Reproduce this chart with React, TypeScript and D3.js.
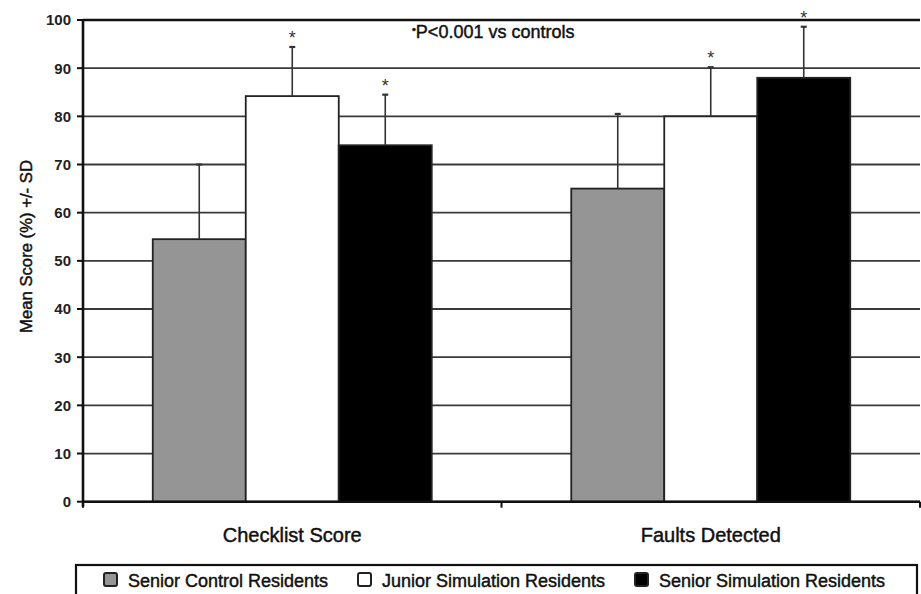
import React from "react";
import * as d3 from "d3";

const categories = ["Checklist Score", "Faults Detected"];
const seriesNames = ["Senior Control Residents", "Junior Simulation Residents", "Senior Simulation Residents"];
const seriesColors = ["#959595", "#ffffff", "#000000"];
const means = [
  [54.5, 65.0],
  [84.2, 80.0],
  [74.0, 88.0],
];
const sds = [
  [15.5, 15.5],
  [10.2, 10.2],
  [10.5, 10.6],
];
const significant = [
  [false, false],
  [true, true],
  [true, true],
];
const yTicks = [0, 10, 20, 30, 40, 50, 60, 70, 80, 90, 100];
const yTitle = "Mean Score (%) +/- SD";
const note = "P<0.001 vs controls";

const W = 921;
const H = 594;
const left = 83;
const right = 920;
const top = 20;
const bottom = 501.7;
const FONT = "'Liberation Sans', Arial, Helvetica, sans-serif";
const heavy = { stroke: "#111", strokeWidth: 0.45 };

export default function App() {
  const y = d3.scaleLinear().domain([0, 100]).range([bottom, top]);
  const x0 = d3.scaleBand<string>().domain(categories).range([left, right]).paddingInner(0).paddingOuter(0);
  const x1 = d3
    .scaleBand<string>()
    .domain(seriesNames)
    .range([0, x0.bandwidth()])
    .paddingInner(0)
    .paddingOuter(0.75);

  const legendX = [104, 358, 635];

  return (
    <svg
      width={W}
      height={H}
      style={{ position: "absolute", left: 0, top: 0, background: "#fff" }}
      fontFamily={FONT}
    >
      <rect x={0} y={0} width={W} height={H} fill="#fff" />
      {/* gridlines */}
      {yTicks.map((t) => (
        <line
          key={"g" + t}
          x1={left}
          x2={right}
          y1={y(t)}
          y2={y(t)}
          stroke={t === 100 ? "#111" : "#3a3a3a"}
          strokeWidth={t === 100 ? 2.4 : 1.8}
        />
      ))}
      {/* bars */}
      {seriesNames.map((s, si) =>
        categories.map((c, ci) => {
          const bx = (x0(c) as number) + (x1(s) as number);
          const bw = x1.bandwidth();
          const v = means[si][ci];
          return (
            <rect
              key={s + c}
              x={bx}
              y={y(v)}
              width={bw}
              height={y(0) - y(v)}
              fill={seriesColors[si]}
              stroke="#222"
              strokeWidth={1.8}
            />
          );
        })
      )}
      {/* error bars and stars */}
      {seriesNames.map((s, si) =>
        categories.map((c, ci) => {
          const cx = (x0(c) as number) + (x1(s) as number) + x1.bandwidth() / 2;
          const v = means[si][ci];
          const e = v + sds[si][ci];
          return (
            <g key={"e" + s + c}>
              <line x1={cx} x2={cx} y1={y(v)} y2={y(e)} stroke="#333" strokeWidth={1.6} />
              <line x1={cx - 3} x2={cx + 3} y1={y(e)} y2={y(e)} stroke="#333" strokeWidth={2.2} />
              {significant[si][ci] && (
                <text x={cx} y={y(e) - 3} textAnchor="middle" fontSize={18} fill="#333">
                  *
                </text>
              )}
            </g>
          );
        })
      )}
      {/* axes */}
      <line x1={left} x2={left} y1={top - 1} y2={bottom + 5} stroke="#111" strokeWidth={2.6} />
      <line x1={left - 1} x2={right} y1={bottom} y2={bottom} stroke="#111" strokeWidth={2.6} />
      {yTicks.map((t) => (
        <g key={"t" + t}>
          <line x1={left - 6} x2={left} y1={y(t)} y2={y(t)} stroke="#111" strokeWidth={2} />
          <text
            x={71}
            y={y(t)}
            dy="0.36em"
            textAnchor="end"
            fontSize={15}
            fontWeight="bold"
            fill="#222"
          >
            {t}
          </text>
        </g>
      ))}
      {[left, left + x0.step(), right].map((tx, i) => (
        <line key={"xt" + i} x1={tx} x2={tx} y1={bottom} y2={bottom + 6} stroke="#111" strokeWidth={2} />
      ))}
      {categories.map((c) => (
        <text
          key={"c" + c}
          x={(x0(c) as number) + x0.bandwidth() / 2}
          y={541.5}
          textAnchor="middle"
          fontSize={20}
          fill="#111"
          {...heavy}
        >
          {c}
        </text>
      ))}
      <text
        transform={`translate(32,246.5) rotate(-90)`}
        textAnchor="middle"
        fontSize={16.7}
        fill="#111"
        {...heavy}
      >
        {yTitle}
      </text>
      {/* note */}
      <text x={412} y={38} fontSize={18} fill="#111" {...heavy}>
        <tspan fontSize={11} dy={-5}>•</tspan>
        <tspan dy={5}>{note}</tspan>
      </text>
      {/* legend */}
      <rect x={76} y={565} width={841} height={40} fill="#fff" stroke="#111" strokeWidth={2.2} />
      {seriesNames.map((s, si) => (
        <g key={"l" + s}>
          <rect
            x={legendX[si]}
            y={573}
            width={13}
            height={13}
            rx={2}
            fill={seriesColors[si]}
            stroke="#222"
            strokeWidth={2}
          />
          <text x={legendX[si] + 24} y={587} fontSize={18} fill="#111" {...heavy}>
            {s}
          </text>
        </g>
      ))}
    </svg>
  );
}
